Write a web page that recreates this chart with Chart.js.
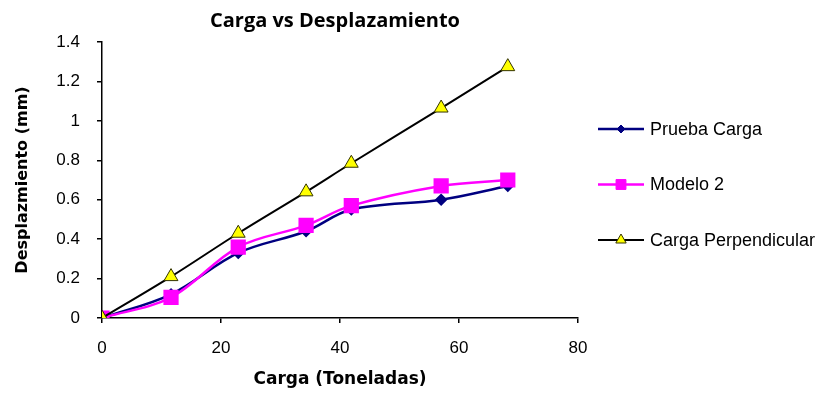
<!DOCTYPE html>
<html>
<head>
<meta charset="utf-8">
<script src="https://cdn.jsdelivr.net/npm/chart.js@4.4.1/dist/chart.umd.min.js"></script>
<style>
  html, body { margin: 0; padding: 0; background: #fff; }
  #chart { display: block; }
</style>
</head>
<body>
<canvas id="chart" width="819" height="393"></canvas>
<script>
// values
var carga = [0, 11.6, 22.9, 34.3, 41.9, 57, 68.2];
var pruebaCarga = [0, 0.12, 0.33, 0.44, 0.55, 0.60, 0.67];
var modelo2 = [0, 0.105, 0.36, 0.47, 0.57, 0.67, 0.70];
var cargaPerp = [0, 0.21, 0.43, 0.64, 0.785, 1.065, 1.275];
var seriesNames = ['Prueba Carga', 'Modelo 2', 'Carga Perpendicular'];
var xTicks = [0, 20, 40, 60, 80];
var yTicks = [0, 0.2, 0.4, 0.6, 0.8, 1, 1.2, 1.4];

function pts(ys) {
  return carga.map(function (x, i) { return { x: x, y: ys[i] }; });
}

// title + legend drawn by hand, excel style
var extras = {
  id: 'extras',
  afterDraw: function (chart) {
    var ctx = chart.ctx;
    ctx.save();
    ctx.fillStyle = '#000';
    ctx.font = 'bold 20px "Open Sans"';
    ctx.textAlign = 'center';
    ctx.textBaseline = 'middle';
    ctx.fillText('Carga vs Desplazamiento', 335, 21);

    ctx.font = '18px "Liberation Sans"';
    ctx.textAlign = 'left';
    chart.data.datasets.forEach(function (ds, i) {
      var y = 129 + i * 55.5;
      ctx.strokeStyle = ds.borderColor;
      ctx.lineWidth = ds.borderWidth;
      ctx.beginPath();
      ctx.moveTo(598, y);
      ctx.lineTo(644, y);
      ctx.stroke();
      ctx.fillStyle = ds.pointBackgroundColor;
      ctx.strokeStyle = ds.pointBorderColor;
      ctx.lineWidth = 1;
      Chart.helpers.drawPoint(ctx, { pointStyle: ds.pointStyle, radius: ds.legendRadius, borderWidth: 1 }, 621, y);
      ctx.fillStyle = '#000';
      ctx.fillText(ds.label, 650, y + 1);
    });
    ctx.restore();
  }
};

new Chart(document.getElementById('chart'), {
  type: 'scatter',
  data: {
    datasets: [
      {
        label: seriesNames[0],
        data: pts(pruebaCarga),
        showLine: true,
        tension: 0.35,
        borderColor: '#000080',
        borderWidth: 2.5,
        pointStyle: 'rectRot',
        pointRadius: 4.5,
        pointBackgroundColor: '#000080',
        pointBorderColor: '#000080',
        legendRadius: 4,
        order: 2
      },
      {
        label: seriesNames[1],
        data: pts(modelo2),
        showLine: true,
        tension: 0.35,
        borderColor: '#ff00ff',
        borderWidth: 2.5,
        pointStyle: 'rect',
        pointRadius: 9,
        pointBackgroundColor: '#ff00ff',
        pointBorderColor: '#ff00ff',
        legendRadius: 7,
        order: 1
      },
      {
        label: seriesNames[2],
        data: pts(cargaPerp),
        showLine: true,
        tension: 0.35,
        borderColor: '#000000',
        borderWidth: 2,
        pointStyle: 'triangle',
        pointRadius: 8,
        pointBackgroundColor: '#ffff00',
        pointBorderColor: '#333300',
        pointBorderWidth: 1,
        legendRadius: 6,
        order: 0
      }
    ]
  },
  options: {
    responsive: false,
    animation: false,
    devicePixelRatio: 1,
    layout: { padding: { left: 0, right: 241, top: 42, bottom: 0 } },
    plugins: {
      legend: { display: false },
      title: { display: false },
      tooltip: { enabled: false }
    },
    scales: {
      x: {
        type: 'linear',
        min: 0,
        max: 80,
        afterBuildTicks: function (s) { s.ticks = xTicks.map(function (v) { return { value: v }; }); },
        afterFit: function (s) { s.height = 75; },
        grid: { drawOnChartArea: false, drawTicks: true, tickLength: 5, color: '#000', lineWidth: 1.5 },
        border: { display: true, color: '#000', width: 1.5 },
        ticks: { color: '#000', font: { family: 'Liberation Sans', size: 17 }, padding: 15 },
        title: {
          display: true,
          text: 'Carga (Toneladas)',
          color: '#000',
          font: { family: 'DejaVu Sans', size: 17, weight: 'bold' },
          padding: { top: 0, bottom: 3 }
        }
      },
      y: {
        type: 'linear',
        min: 0,
        max: 1.4,
        afterBuildTicks: function (s) { s.ticks = yTicks.map(function (v) { return { value: v }; }); },
        afterFit: function (s) { s.width = 102; },
        grid: { drawOnChartArea: false, drawTicks: true, tickLength: 5, color: '#000', lineWidth: 1.5 },
        border: { display: true, color: '#000', width: 1.5 },
        ticks: {
          color: '#000',
          font: { family: 'Liberation Sans', size: 17 },
          padding: 17,
          callback: function (v) { return String(+v.toFixed(1)); }
        },
        title: {
          display: true,
          text: 'Desplazmiento (mm)',
          color: '#000',
          font: { family: 'DejaVu Sans', size: 16, weight: 'bold' },
          padding: { top: 13, bottom: 0 }
        }
      }
    }
  },
  plugins: [extras]
});
</script>
</body>
</html>
